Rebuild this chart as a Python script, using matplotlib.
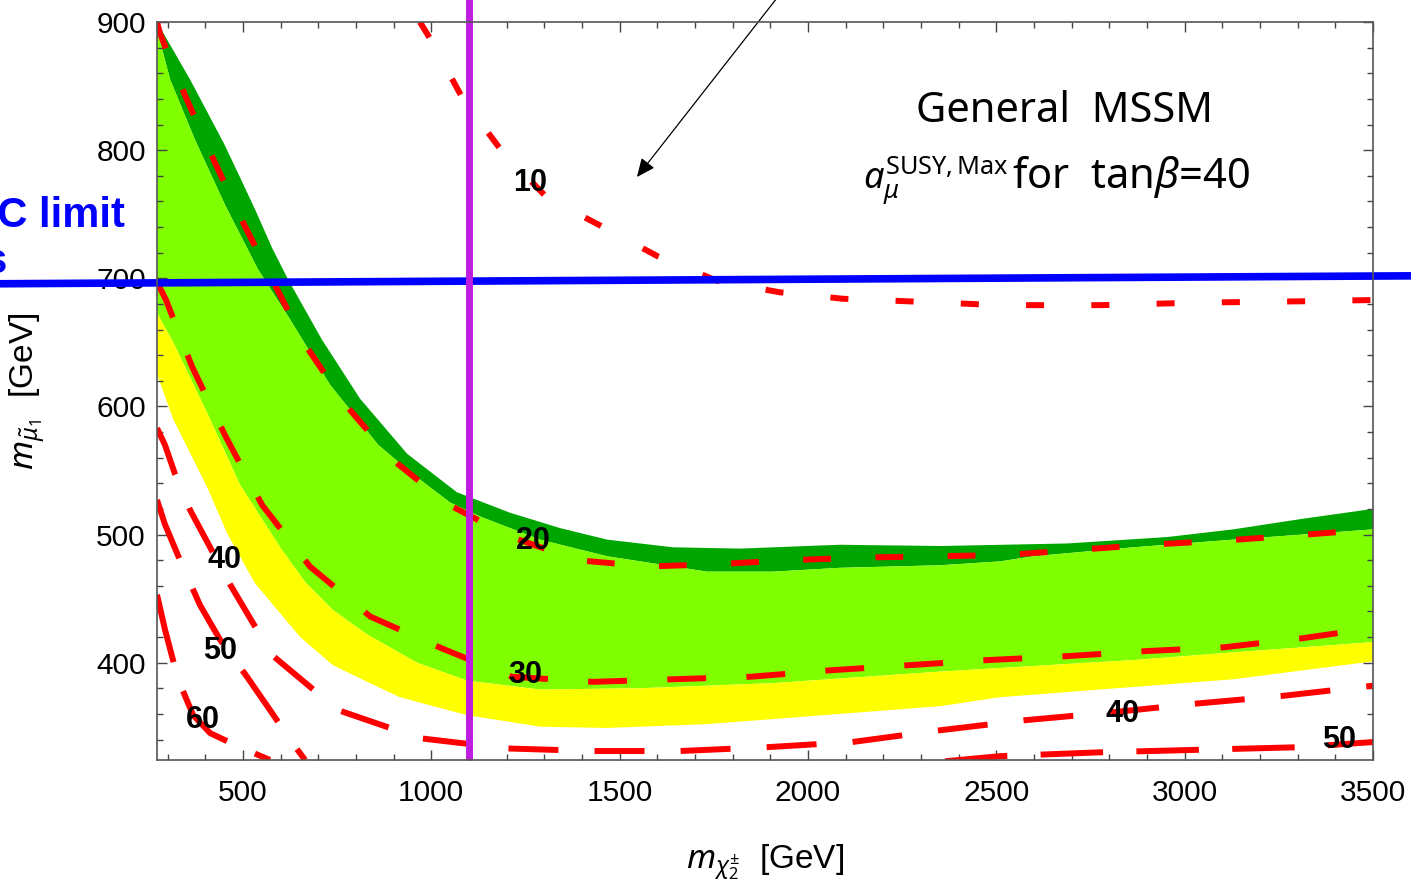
import matplotlib
matplotlib.use('Agg')
import matplotlib.pyplot as plt
from matplotlib.ticker import MultipleLocator
from matplotlib.patches import ArrowStyle

plt.rcParams['font.family'] = ['Liberation Sans', 'DejaVu Sans']
plt.rcParams['lines.scale_dashes'] = False
plt.rcParams['mathtext.fontset'] = 'custom'
plt.rcParams['mathtext.rm'] = 'Noto Sans'
plt.rcParams['mathtext.it'] = 'Noto Sans:italic'
plt.rcParams['mathtext.bf'] = 'Noto Sans:bold'
plt.rcParams['mathtext.sf'] = 'Noto Sans'

# ---------------- data (x: m_chi2 [GeV], y: m_smu1 [GeV]) ----------------
# band boundaries
top_x = [272, 315, 360, 405, 450, 492, 535, 577, 620, 710, 811, 936, 1068, 1209, 1342, 1467, 1642, 1820, 2085, 2351, 2688, 2953, 3129, 3307, 3500]
top_y = [900, 878, 855, 830, 805, 779, 752, 724, 699, 652, 606, 563, 533, 517, 505, 496, 490, 489, 492, 491, 493, 498, 504, 512, 520]

dl_x = [272, 307, 373, 453, 540, 625, 731, 859, 947, 1050, 1130, 1289, 1467, 1732, 1907, 2085, 2351, 2510, 2598, 2863, 3129, 3500]
dl_y = [894, 855, 808, 757, 707, 668, 617, 570, 548, 525, 514, 496, 483, 471, 471, 474, 476, 479, 483, 490, 496, 504]

ly_x = [272, 315, 405, 492, 599, 665, 739, 830, 962, 1095, 1289, 1554, 1907, 2351, 2863, 3129, 3500]
ly_y = [673, 650, 595, 539, 490, 463, 441, 422, 400, 386, 379, 380, 384, 393, 402, 408, 416]

yb_x = [272, 315, 405, 458, 532, 652, 739, 830, 917, 1095, 1289, 1467, 1732, 1998, 2351, 2510, 2863, 3129, 3500]
yb_y = [625, 590, 537, 501, 462, 420, 398, 385, 373, 359, 350, 349, 352, 358, 366, 373, 381, 387, 401]

# contour lines of a_mu (x 10^-10)
c10_x = [970, 997, 1084, 1188, 1307, 1456, 1602, 1759, 1926, 2093, 2266, 2510, 2776, 3041, 3307, 3500]
c10_y = [900, 887, 840, 799, 763, 740, 717, 698, 689, 684, 682, 679, 679, 681, 682, 683]

c20_x = [272, 280, 346, 423, 503, 588, 670, 776, 899, 1042, 1204, 1387, 1576, 1767, 1955, 2144, 2335, 2526, 2714, 2903, 3091, 3283, 3500]
c20_y = [900, 891, 843, 792, 742, 693, 646, 600, 558, 524, 499, 480, 475, 477, 480, 482, 483, 484, 488, 492, 495, 499, 504]

c30_x = [272, 296, 365, 455, 551, 678, 838, 1029, 1214, 1430, 1639, 1849, 2059, 2268, 2478, 2685, 2898, 3105, 3312, 3500]
c30_y = [697, 683, 631, 576, 523, 475, 436, 411, 389, 385, 387, 389, 394, 398, 402, 405, 409, 412, 419, 427]

c40_x = [272, 293, 320, 360, 466, 577, 752, 970, 1201, 1430, 1660, 1891, 2117, 2345, 2574, 2800, 3030, 3259, 3500]
c40_y = [583, 570, 547, 519, 461, 406, 363, 341, 333, 331, 331, 334, 338, 347, 355, 361, 368, 374, 382]

c50a_x = [272, 293, 333, 386, 439, 506, 572, 625, 665]
c50a_y = [527, 508, 480, 445, 418, 391, 363, 340, 324]
c50b_x = [2364, 2510, 2776, 3041, 3307, 3500]
c50b_y = [323, 327, 330, 332, 334, 338]

c60_x = [272, 293, 328, 368, 413, 492, 572]
c60_y = [453, 426, 387, 359, 345, 334, 324]

contour_labels = ['10', '20', '30', '40', '50', '60', '40', '50']
label_x = [1262, 1270, 1249, 450, 439, 394, 2834, 3410]
label_y = [774, 495, 390, 480, 409, 355, 360, 340]

x_ticks = [500, 1000, 1500, 2000, 2500, 3000, 3500]
y_ticks = [400, 500, 600, 700, 800, 900]

lhc_x = [-150, 3610]
lhc_y = [695.7, 701.9]
chi_limit_x = 1100

# ---------------- figure ----------------
W, H = 1411, 889
fig = plt.figure(figsize=(W / 100, H / 100), dpi=100)
ax = fig.add_axes([157 / W, 1 - 760 / H, (1373 - 157) / W, (760 - 22) / H])
ax.set_xlim(272, 3500)
ax.set_ylim(324, 900)

DARK = '#00A600'
LIGHT = '#80FF00'
YEL = '#FFFF00'

ax.fill(top_x + dl_x[::-1], top_y + dl_y[::-1], color=DARK, lw=0, zorder=1)
ax.fill(dl_x + ly_x[::-1], dl_y + ly_y[::-1], color=LIGHT, lw=0, zorder=1)
ax.fill(ly_x + yb_x[::-1], ly_y + yb_y[::-1], color=YEL, lw=0, zorder=1)

RED = '#FF0000'
LW = 4.3
def cline(x, y, on, off):
    ax.plot(x, y, color=RED, lw=LW, dashes=(on, off), dash_capstyle='butt', zorder=3)

cline(c10_x, c10_y, 13, 34)
cline(c20_x, c20_y, 20, 32)
cline(c30_x, c30_y, 28, 29)
cline(c40_x, c40_y, 36, 26)
cline(c50a_x, c50a_y, 45, 24)
cline(c50b_x, c50b_y, 45, 24)
cline(c60_x, c60_y, 50, 22)

for t, x, y in zip(contour_labels, label_x, label_y):
    ax.text(x, y, t, ha='center', va='center', fontsize=22, fontweight='bold',
            color='black', zorder=4)

# LHC limit (blue) and vertical limit (purple)
ax.plot(lhc_x, lhc_y, color='#0000FF', lw=5.5, clip_on=False, zorder=5, solid_capstyle='butt')
ax.plot([chi_limit_x, chi_limit_x], [324, 960], color='#BE1CDE', lw=5, clip_on=False,
        zorder=6, solid_capstyle='butt')

# arrow
ax.annotate('', xy=(1546, 779), xytext=(2001, 950), annotation_clip=False,
            arrowprops=dict(arrowstyle=ArrowStyle('-|>', head_length=0.45, head_width=0.2),
                            mutation_scale=25, color='black', lw=0.9,
                            shrinkA=0, shrinkB=0), zorder=7)

# ticks / frame
ax.xaxis.set_minor_locator(MultipleLocator(100))
ax.yaxis.set_minor_locator(MultipleLocator(20))
ax.set_xticks(x_ticks)
ax.set_yticks(y_ticks)
ax.set_xticklabels([str(v) for v in x_ticks])
ax.set_yticklabels([str(v) for v in y_ticks])
ax.tick_params(which='both', direction='in', top=True, right=True, color='#444444', width=1)
ax.tick_params(which='major', length=7.5)
ax.tick_params(which='minor', length=4.5)
ax.tick_params(axis='x', which='major', labelsize=21.5, pad=14)
ax.tick_params(axis='y', which='major', labelsize=21.5, pad=8)
for s in ax.spines.values():
    s.set_color('#555555')
    s.set_linewidth(1.2)
    s.set_zorder(8)

ax.set_ylabel(r'$m_{\tilde{\mu}_1}$  [GeV]', fontsize=24)
ax.yaxis.set_label_coords(-0.0905, 0.5)
ax.set_xlabel(r'$m_{\chi_2^{\pm}}$  [GeV]', fontsize=24)
ax.xaxis.set_label_coords(0.5, -0.112)

# in-plot title
fig.text(1065 / W, 1 - 122 / H, 'General  MSSM', ha='center', va='baseline',
         fontsize=30, family='Noto Sans')
fig.text(863 / W, 1 - 188 / H, r'$a_{\mu}^{\mathrm{SUSY,Max}}$', ha='left', va='baseline',
         fontsize=26, family='Noto Sans')
fig.text(1012 / W, 1 - 188 / H, r'for  tan$\beta$=40', ha='left', va='baseline',
         fontsize=30, family='Noto Sans')

# cut-off side label
fig.text(125 / W, 1 - 227 / H, 'LHC limit', ha='right', va='baseline',
         fontsize=30, fontweight='bold', color='#0000FF')
fig.text(8 / W, 1 - 273 / H, 'sleptons', ha='right', va='baseline',
         fontsize=30, fontweight='bold', color='#0000FF')

fig.savefig('out.png', dpi=100)
